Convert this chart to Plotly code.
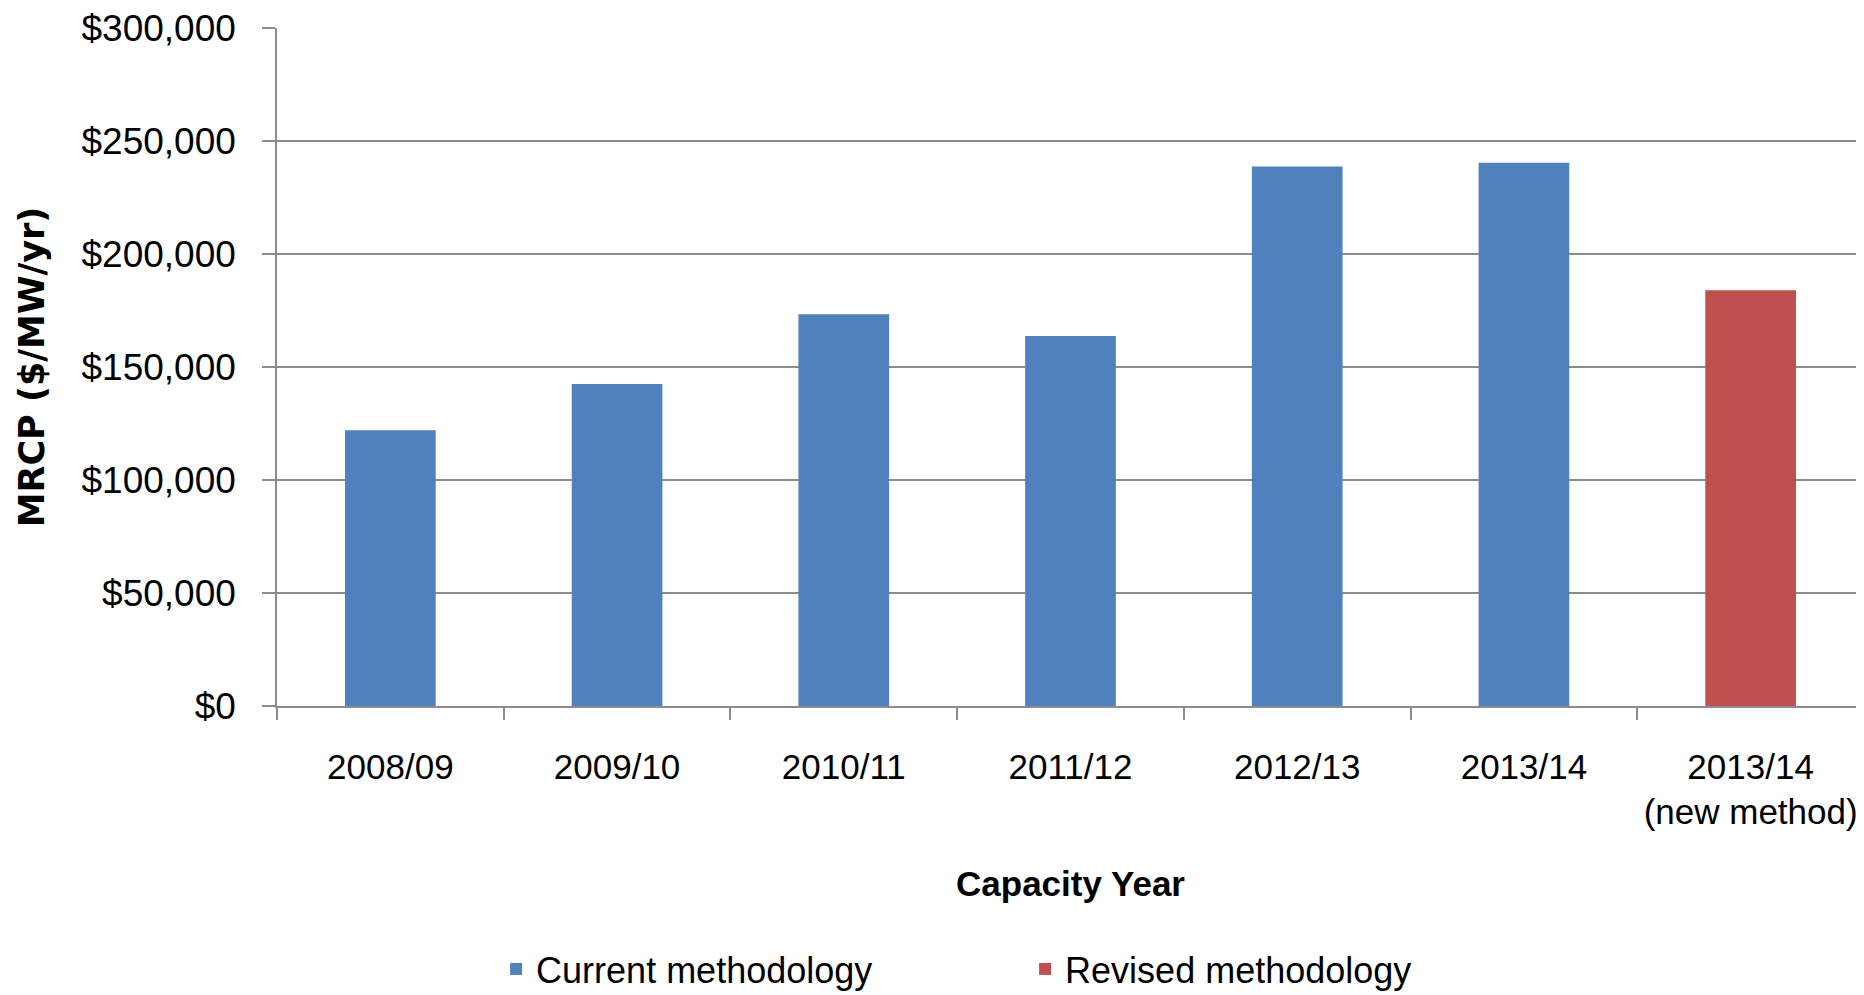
import plotly.graph_objects as go

categories = ["2008/09", "2009/10", "2010/11", "2011/12", "2012/13", "2013/14", "2013/14<br>(new method)"]
current_values = [122000, 142500, 173300, 163700, 238700, 240400, None]
revised_values = [None, None, None, None, None, None, 184000]
y_ticks = [0, 50000, 100000, 150000, 200000, 250000, 300000]
y_tick_labels = ["$" + format(v, ",") for v in y_ticks]

BLUE = "#4F81BD"
RED = "#C0504D"
GRID = "#8C8C8C"
FONT = "Liberation Sans, Arial, sans-serif"

fig = go.Figure()
fig.add_trace(go.Bar(x=categories, y=current_values, name="Current methodology",
                     marker=dict(color=BLUE, line=dict(width=0))))
fig.add_trace(go.Bar(x=categories, y=revised_values, name="Revised methodology",
                     marker=dict(color=RED, line=dict(width=0))))

fig.update_layout(
    width=1856, height=987,
    margin=dict(l=269, r=0, t=20, b=288.5, autoexpand=False),
    plot_bgcolor="white", paper_bgcolor="white",
    barmode="overlay", bargap=0.6,
    font=dict(family=FONT, size=36, color="black"),
    showlegend=True,
    legend=dict(orientation="h", xref="container", yref="container",
                x=0.548, y=0.0263, xanchor="center", yanchor="middle",
                font=dict(family=FONT, size=36),
                entrywidth=484, entrywidthmode="pixels",
                traceorder="normal"),
    xaxis=dict(
        type="category", range=[-0.5, 6.5],
        showline=True, linecolor=GRID, linewidth=1.5,
        ticks="outside", tickson="boundaries", ticklen=12, tickcolor=GRID, tickwidth=1.5,
        showgrid=False, ticklabelstandoff=29, tickangle=0,
        tickfont=dict(family=FONT, size=35),
        title=dict(text="<b>Capacity Year</b>", font=dict(family=FONT, size=35), standoff=41),
        automargin=False,
    ),
    yaxis=dict(
        range=[0, 300000], tickvals=y_ticks, ticktext=y_tick_labels,
        showline=True, linecolor=GRID, linewidth=1.5,
        ticks="outside", ticklen=13, tickcolor=GRID, tickwidth=1.5,
        showgrid=True, gridcolor=GRID, gridwidth=1.5, zeroline=False,
        ticklabelstandoff=19, ticklabeloverflow="allow",
        tickfont=dict(family=FONT, size=37),
        title=dict(text="<b>MRCP ($/MW/yr)</b>", font=dict(family="DejaVu Sans, sans-serif", size=35), standoff=26),
        automargin=False,
    ),
)

fig.write_html("out.html")
